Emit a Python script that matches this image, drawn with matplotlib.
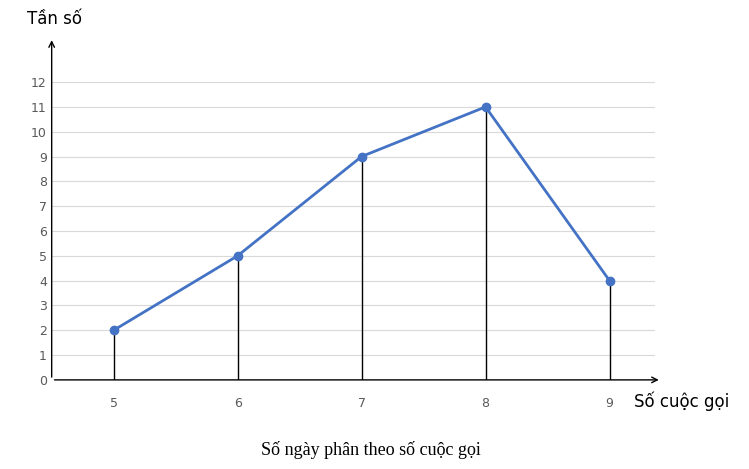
import matplotlib.pyplot as plt

calls = [5, 6, 7, 8, 9]
freq = [2, 5, 9, 11, 4]
y_ticks = list(range(0, 13))

fig = plt.figure(figsize=(7.49, 4.69), dpi=100)
ax = fig.add_axes([0.069, 0.19, 0.806, 0.635])
ax.set_xlim(4.5, 9.37)
ax.set_ylim(0, 12)
ax.set_yticks(y_ticks)
ax.set_xticks(calls)
ax.grid(axis='y', color='#d9d9d9', lw=0.8)
ax.set_axisbelow(True)
for s in ax.spines.values():
    s.set_visible(False)
ax.tick_params(length=0, colors='#595959', labelsize=9)
ax.tick_params(axis='x', pad=12)

ax.vlines(calls, 0, freq, color='black', lw=1)
ax.plot(calls, freq, color='#4472c4', lw=2, marker='o', ms=6, zorder=3)

# arrows for axes
ax.annotate('', xy=(9.42, 0), xytext=(4.5, 0), xycoords='data',
            arrowprops=dict(arrowstyle='->', color='black', lw=1), annotation_clip=False)
ax.annotate('', xy=(4.5, 13.8), xytext=(4.5, 0),
            arrowprops=dict(arrowstyle='->', color='black', lw=1), annotation_clip=False)

fig.text(0.073, 0.96, 'Tần số', fontsize=12, ha='center', va='center')
fig.text(0.91, 0.145, 'Số cuộc gọi', fontsize=12, ha='center', va='center')
fig.text(0.495, 0.04, 'Số ngày phân theo số cuộc gọi', fontsize=13,
         ha='center', va='center', family='Liberation Serif')

fig.savefig('out.png', dpi=100)
